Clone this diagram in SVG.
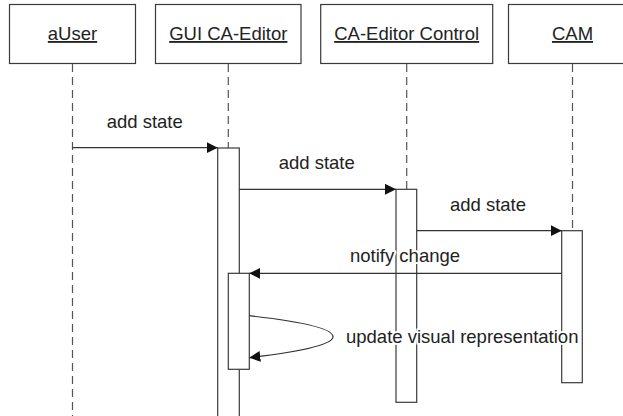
<svg xmlns="http://www.w3.org/2000/svg" width="623" height="416" viewBox="0 0 623 416">
<style>
.box{fill:#fff;stroke:#3a3a3a;stroke-width:1.2}
.act{fill:#fff;stroke:#3a3a3a;stroke-width:1.2}
.life{stroke:#555;stroke-width:1.2;stroke-dasharray:8,5;fill:none}
.msg{stroke:#333;stroke-width:1.2;fill:none;marker-end:url(#arr)}
.t{font-family:"Liberation Sans",Arial,sans-serif;font-size:18.5px;fill:#222}
.title{text-anchor:middle;text-decoration:underline}
.lbl{paint-order:stroke;stroke:#fff;stroke-width:4px;stroke-linejoin:round}
</style>
<defs>
<marker id="arr" markerUnits="userSpaceOnUse" markerWidth="12" markerHeight="12" refX="11" refY="5.5" orient="auto">
<path d="M0,0 L11,5.5 L0,11 z" fill="#111"/>
</marker>
</defs>
<rect width="623" height="416" fill="#fff"/>
<g id="aUser">
<rect class="box" x="9.5" y="4.5" width="126" height="59"/>
<text class="t title" x="72.5" y="40">aUser</text>
<line class="life" x1="72.5" y1="64" x2="72.5" y2="416"/>
</g>
<g id="gui">
<rect class="box" x="155.5" y="4.5" width="145.5" height="59"/>
<text class="t title" x="228.3" y="40">GUI CA-Editor</text>
<line class="life" x1="228.3" y1="64" x2="228.3" y2="148"/>
<rect class="act" x="217.7" y="148" width="21.6" height="272"/>
<rect class="act" x="228.3" y="273.3" width="21" height="96"/>
</g>
<g id="control">
<rect class="box" x="320.7" y="4.5" width="172" height="59"/>
<text class="t title" x="406.7" y="40">CA-Editor Control</text>
<line class="life" x1="406.7" y1="64" x2="406.7" y2="189.3"/>
<rect class="act" x="396" y="189.3" width="20.7" height="213"/>
</g>
<g id="cam">
<rect class="box" x="508.5" y="4.5" width="128" height="59"/>
<text class="t title" x="572.5" y="40">CAM</text>
<line class="life" x1="572.5" y1="64" x2="572.5" y2="230.7"/>
<rect class="act" x="561.7" y="230.7" width="20.6" height="152"/>
</g>
<g id="connectors">
<line class="msg" x1="72.5" y1="147.7" x2="217.7" y2="147.7"/>
<text class="t" x="144.7" y="128.3" text-anchor="middle">add state</text>
<line class="msg" x1="239.3" y1="189.3" x2="396" y2="189.3"/>
<text class="t" x="316.7" y="169.3" text-anchor="middle">add state</text>
<line class="msg" x1="416.7" y1="230.7" x2="561.7" y2="230.7"/>
<text class="t" x="488" y="210.7" text-anchor="middle">add state</text>
<line class="msg" x1="561.7" y1="273.3" x2="249.3" y2="273.3"/>
<text class="t lbl" x="350" y="261.7">notify change</text>
<path class="msg" d="M249.3,315.7 C305,322 333,329 333,336.7 C333,344 305,351 249.3,357.7"/>
<text class="t lbl" x="346" y="342.7">update visual representation</text>
</g>
</svg>
